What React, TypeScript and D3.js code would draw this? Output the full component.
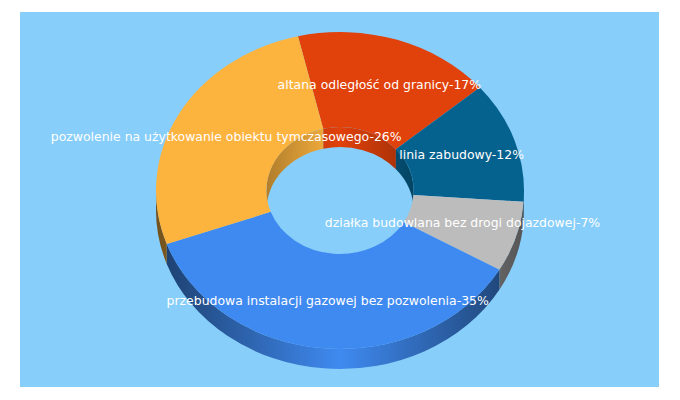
import * as d3 from "d3";

const labels = [
  "altana odległość od granicy-17%",
  "linia zabudowy-12%",
  "działka budowlana bez drogi dojazdowej-7%",
  "przebudowa instalacji gazowej bez pozwolenia-35%",
  "pozwolenie na użytkowanie obiektu tymczasowego-26%",
];
const shares = [17.4, 12.4, 7.2, 36.2, 26.8];
const colors = ["#e1410a", "#05628f", "#bcbcbc", "#3f8af0", "#fdb43f"];

const width = 680;
const height = 400;
const panel = { x: 20, y: 12, width: 639, height: 375 };
const cx = 340;
const cy = 190.5;
const rx = 184;
const ry = 158.5;
const holeRatio = 0.4;
const depth = 20;
const startDeg = -13.2;

const rad = (deg: number) => (deg * Math.PI) / 180;
const TAU = Math.PI * 2;

const slices = d3
  .pie<number>()
  .sort(null)
  .startAngle(rad(startDeg))
  .endAngle(rad(startDeg) + TAU)(shares);

const ringArc = d3
  .arc<d3.PieArcDatum<number>>()
  .innerRadius(rx * holeRatio)
  .outerRadius(rx);

// elliptical band between an arc of the ellipse and the same arc pushed down by depth
function wallPath(a0: number, a1: number, ratio: number) {
  const ax = rx * ratio;
  const ay = ry * ratio;
  const px = (a: number) => cx + ax * Math.sin(a);
  const py = (a: number) => cy - ay * Math.cos(a);
  return [
    `M${px(a0)},${py(a0)}`,
    `A${ax},${ay} 0 0 1 ${px(a1)},${py(a1)}`,
    `L${px(a1)},${py(a1) + depth}`,
    `A${ax},${ay} 0 0 0 ${px(a0)},${py(a0) + depth}`,
    "Z",
  ].join(" ");
}

function shade(color: string, k: number) {
  const c = d3.rgb(color);
  return d3.rgb(c.r * k, c.g * k, c.b * k).formatHex();
}

// visible part of a slice's wall, angle window [lo, hi], also tried one turn later
function clampRange(a0: number, a1: number, lo: number, hi: number) {
  for (const shift of [-TAU, 0, TAU]) {
    const s = Math.max(a0, lo + shift);
    const e = Math.min(a1, hi + shift);
    if (e > s) return [s, e];
  }
  return null;
}

export default function App() {
  return (
    <svg
      width={width}
      height={height}
      style={{ position: "absolute", left: 0, top: 0, display: "block" }}
      fontFamily="'DejaVu Sans', sans-serif"
    >
      <defs>
        {colors.map((color, i) => (
          <g key={color}>
            <linearGradient
              id={`outer-${i}`}
              gradientUnits="userSpaceOnUse"
              x1={cx - rx}
              x2={cx + rx}
              y1={0}
              y2={0}
            >
              <stop offset="0" stopColor={shade(color, 0.45)} />
              <stop offset="0.5" stopColor={color} />
              <stop offset="1" stopColor={shade(color, 0.45)} />
            </linearGradient>
            <linearGradient
              id={`inner-${i}`}
              gradientUnits="userSpaceOnUse"
              x1={cx - rx * holeRatio}
              x2={cx + rx * holeRatio}
              y1={0}
              y2={0}
            >
              <stop offset="0" stopColor={shade(color, 0.7)} />
              <stop offset="0.5" stopColor={color} />
              <stop offset="1" stopColor={shade(color, 0.7)} />
            </linearGradient>
          </g>
        ))}
      </defs>

      <rect {...panel} fill="#87cefa" />

      {/* Outer wall, lower half only */}
      {slices.map((s, i) => {
        const r = clampRange(s.startAngle, s.endAngle, Math.PI / 2, (3 * Math.PI) / 2);
        return r && <path key={i} d={wallPath(r[0], r[1], 1)} fill={`url(#outer-${i})`} />;
      })}

      {/* Inner wall, upper half of the hole */}
      {slices.map((s, i) => {
        const r = clampRange(s.startAngle, s.endAngle, -Math.PI / 2, Math.PI / 2);
        return r && <path key={i} d={wallPath(r[0], r[1], holeRatio)} fill={`url(#inner-${i})`} />;
      })}

      {/* Top surface */}
      <g transform={`translate(${cx},${cy}) scale(1,${ry / rx})`}>
        {slices.map((s, i) => (
          <path key={i} d={ringArc(s) ?? ""} fill={colors[i]} />
        ))}
      </g>

      {/* Labels */}
      {slices.map((s, i) => {
        const [x, y] = ringArc.centroid(s);
        return (
          <text
            key={i}
            x={cx + x - 0.7}
            y={cy + (y * ry) / rx + 3.5}
            textAnchor="middle"
            fontSize={12.45}
            fill="#ffffff"
          >
            {labels[i]}
          </text>
        );
      })}
    </svg>
  );
}
